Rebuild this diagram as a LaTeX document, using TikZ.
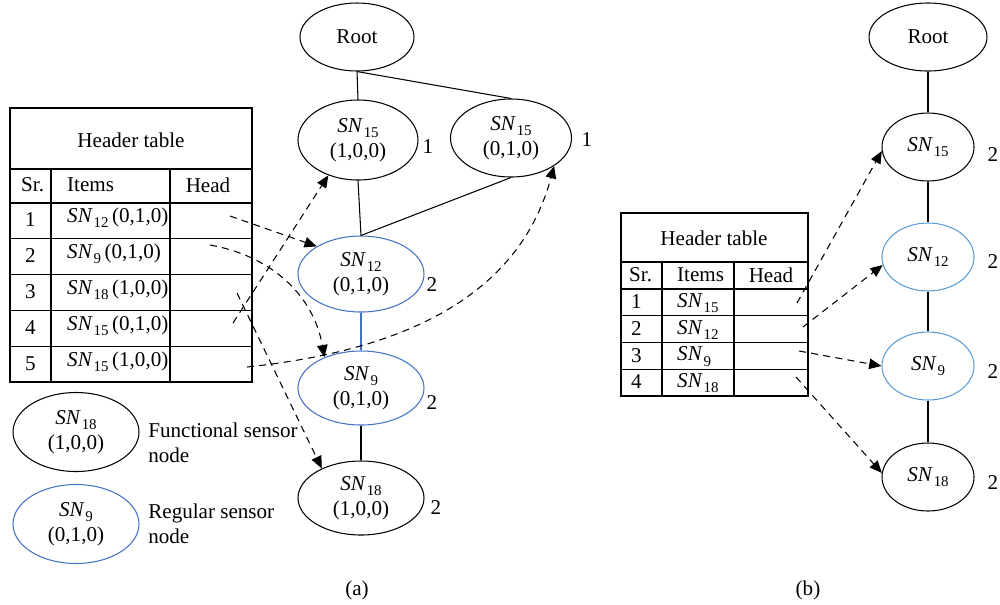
\documentclass[tikz,border=0pt]{standalone}
\usepackage{fontspec}
\setmainfont{Liberation Serif}
\usetikzlibrary{shapes.geometric,arrows.meta}
\definecolor{regblue}{RGB}{68,114,196}
\definecolor{regblueb}{RGB}{91,155,213}
\newcommand{\sensor}[1]{\textit{SN}\kern0.5pt\raisebox{-0.55ex}{\fontsize{8.5}{9}\selectfont #1}}
\tikzset{
  snode/.style={draw, ellipse, line width=0.6pt, align=center, inner sep=0pt},
  tline/.style={line width=0.6pt},
  ptr/.style={dash pattern=on 4pt off 3pt, line width=0.6pt, -{Triangle[length=7pt,width=6pt]}}
}
\begin{document}
\begin{tikzpicture}[font=\fontsize{12}{14}\selectfont]
\useasboundingbox (0,0) rectangle (20,-12.08);

% (a) tree
\node[snode, minimum width=2.28cm, minimum height=1.36cm] (root) at (7.14,-0.74) {Root};
\node[snode, minimum width=2.4cm, minimum height=1.6cm] (la) at (7.16,-2.8) {\sensor{15}\\(1,0,0)};
\node[snode, minimum width=2.42cm, minimum height=1.56cm] (lb) at (10.22,-2.76) {\sensor{15}\\(0,1,0)};
\node[snode, draw=regblue, minimum width=2.52cm, minimum height=1.52cm] (l12) at (7.22,-5.48) {\sensor{12}\\(0,1,0)};
\node[snode, draw=regblue, minimum width=2.52cm, minimum height=1.48cm] (l9) at (7.22,-7.76) {\sensor{9}\\(0,1,0)};
\node[snode, minimum width=2.52cm, minimum height=1.48cm] (l18) at (7.22,-9.96) {\sensor{18}\\(1,0,0)};
\node (ca) at (8.56,-2.94) {1};
\node (cb) at (11.74,-2.8) {1};
\node (c12) at (8.64,-5.7) {2};
\node (c9) at (8.64,-8.06) {2};
\node (c18) at (8.72,-10.16) {2};
\draw[tline] (root.south) -- (la.north);
\draw[tline] (root.south) -- (lb.north);
\draw[tline] (la.south) -- (l12.north);
\draw[tline] (lb.south) -- (l12.north);
\draw[tline, regblue] (l12.south) -- (l9.north);
\draw[tline] (l9.south) -- (l18.north);

% (a) header table
\draw[tline] (0.2,-2.16) rectangle (5.04,-7.64);
\draw[tline] (0.2,-3.38) -- (5.04,-3.38);
\draw[tline] (0.2,-4.06) -- (5.04,-4.06);
\draw[tline] (0.2,-4.776) -- (5.04,-4.776);
\draw[tline] (0.2,-5.492) -- (5.04,-5.492);
\draw[tline] (0.2,-6.208) -- (5.04,-6.208);
\draw[tline] (0.2,-6.924) -- (5.04,-6.924);
\draw[tline] (1.02,-3.38) -- (1.02,-7.64);
\draw[tline] (3.4,-3.38) -- (3.4,-7.64);
\node (lt) at (2.62,-2.8) {Header table};
\node[anchor=west] (lsr) at (0.3,-3.7) {Sr.};
\node[anchor=west] (lit) at (1.22,-3.7) {Items};
\node (lhd) at (4.16,-3.7) {Head};
\node[anchor=west] (ln1) at (0.38,-4.4) {1};
\node[anchor=west] (ln2) at (0.38,-5.12) {2};
\node[anchor=west] (ln3) at (0.38,-5.84) {3};
\node[anchor=west] (ln4) at (0.38,-6.55) {4};
\node[anchor=west] (ln5) at (0.38,-7.27) {5};
\node[anchor=west] (li1) at (1.22,-4.36) {\sensor{12}\,(0,1,0)};
\node[anchor=west] (li2) at (1.22,-5.08) {\sensor{9}\,(0,1,0)};
\node[anchor=west] (li3) at (1.22,-5.8) {\sensor{18}\,(1,0,0)};
\node[anchor=west] (li4) at (1.22,-6.51) {\sensor{15}\,(0,1,0)};
\node[anchor=west] (li5) at (1.22,-7.23) {\sensor{15}\,(1,0,0)};
\coordinate (p1) at (4.6,-4.32);
\coordinate (p2) at (4.2,-4.9);
\coordinate (p3) at (4.74,-5.86);
\coordinate (p4) at (4.66,-6.46);
\coordinate (p5) at (4.94,-7.34);
\draw[ptr] (p1) -- (l12.148);
\draw[ptr] (p2) to[out=-10, in=100] (l9.140);
\draw[ptr] (p3) -- (l18.143);
\draw[ptr] (p4) -- (la.230);
\draw[ptr] (p5) to[out=6, in=-105] (lb.-33);

% legend
\node[snode, minimum width=2.52cm, minimum height=1.58cm] (fn) at (1.52,-8.64) {\sensor{18}\\(1,0,0)};
\node[snode, draw=regblue, minimum width=2.52cm, minimum height=1.58cm] (rn) at (1.52,-10.48) {\sensor{9}\\(0,1,0)};
\node[anchor=west, align=left, inner sep=0pt] (fnt) at (2.96,-8.86) {Functional sensor\\node};
\node[anchor=west, align=left, inner sep=0pt] (rnt) at (2.96,-10.48) {Regular sensor\\node};
\node (capa) at (7.14,-11.8) {(a)};

% (b) tree
\node[snode, minimum width=2.36cm, minimum height=1.36cm] (rroot) at (18.56,-0.74) {Root};
\node[snode, minimum width=1.84cm, minimum height=1.36cm] (r15) at (18.56,-2.94) {\sensor{15}};
\node[snode, draw=regblueb, minimum width=1.84cm, minimum height=1.36cm] (r12) at (18.56,-5.14) {\sensor{12}};
\node[snode, draw=regblueb, minimum width=1.84cm, minimum height=1.36cm] (r9) at (18.56,-7.32) {\sensor{9}};
\node[snode, minimum width=1.84cm, minimum height=1.36cm] (r18) at (18.56,-9.54) {\sensor{18}};
\node (d15) at (19.86,-3.1) {2};
\node (d12) at (19.86,-5.24) {2};
\node (d9) at (19.86,-7.44) {2};
\node (d18) at (19.86,-9.66) {2};
\draw[tline] (rroot) -- (r15);
\draw[tline] (r15) -- (r12);
\draw[tline] (r12) -- (r9);
\draw[tline] (r9) -- (r18);

% (b) header table
\draw[tline] (12.42,-4.26) rectangle (16.16,-7.92);
\draw[tline] (12.42,-5.24) -- (16.16,-5.24);
\draw[tline] (12.42,-5.78) -- (16.16,-5.78);
\draw[tline] (12.42,-6.315) -- (16.16,-6.315);
\draw[tline] (12.42,-6.85) -- (16.16,-6.85);
\draw[tline] (12.42,-7.385) -- (16.16,-7.385);
\draw[tline] (13.24,-5.24) -- (13.24,-7.92);
\draw[tline] (14.68,-5.24) -- (14.68,-7.92);
\node (rt) at (14.28,-4.76) {Header table};
\node[anchor=west] (rsr) at (12.46,-5.5) {Sr.};
\node[anchor=west] (rit) at (13.42,-5.5) {Items};
\node (rhd) at (15.42,-5.5) {Head};
\node[anchor=west] (rn1) at (12.5,-6.04) {1};
\node[anchor=west] (rn2) at (12.5,-6.58) {2};
\node[anchor=west] (rn3) at (12.5,-7.11) {3};
\node[anchor=west] (rn4) at (12.5,-7.64) {4};
\node[anchor=west] (ri1) at (13.42,-6.06) {\sensor{15}};
\node[anchor=west] (ri2) at (13.42,-6.6) {\sensor{12}};
\node[anchor=west] (ri3) at (13.42,-7.13) {\sensor{9}};
\node[anchor=west] (ri4) at (13.42,-7.66) {\sensor{18}};
\coordinate (q1) at (15.94,-6.06);
\coordinate (q2) at (16.06,-6.54);
\coordinate (q3) at (15.98,-7.02);
\coordinate (q4) at (15.92,-7.54);
\draw[ptr] (q1) -- (r15.185);
\draw[ptr] (q2) -- (r12.190);
\draw[ptr] (q3) -- (r9.west);
\draw[ptr] (q4) -- (r18.175);
\node (capb) at (16.16,-11.8) {(b)};
\end{tikzpicture}
\end{document}
